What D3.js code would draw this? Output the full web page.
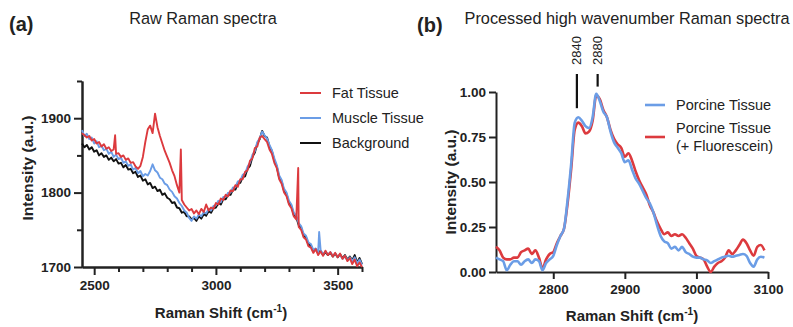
<!DOCTYPE html>
<html>
<head>
<meta charset="utf-8">
<script src="https://cdn.jsdelivr.net/npm/d3@7"></script>
<style>
  body { margin: 0; background: #fff; }
  svg text { font-family: "Liberation Sans", Arial, Helvetica, sans-serif; fill: #222; }
</style>
</head>
<body>
<div id="chart"></div>
<script>
// ---- panel (a): raw spectra, one value every 10 cm-1 from 2450 to 3600
const rawShift = d3.range(2450, 3601, 10);

const fatTissue = [
  1880,1877,1874,1876,1870,1872,1866,1868,1862,1865,
  1859,1861,1856,1858,1852,1853,1848,1850,1844,1846,
  1840,1841,1835,1832,1836,1848,1868,1885,1890,1880,
  1906,1888,1876,1866,1856,1848,1840,1830,1822,1810,
  1800,1790,1784,1780,1776,1778,1772,1776,1771,1778,
  1774,1784,1776,1780,1778,1786,1784,1792,1790,1797,
  1795,1803,1802,1810,1808,1818,1818,1828,1830,1843,
  1846,1860,1862,1874,1876,1872,1868,1858,1852,1840,
  1833,1818,1812,1800,1795,1784,1779,1768,1764,1754,
  1750,1740,1737,1728,1726,1719,1724,1716,1721,1715,
  1722,1716,1720,1714,1719,1713,1718,1711,1715,1708,
  1712,1704,1710,1701,1706,1700
];
const muscleTissue = [
  1884,1876,1879,1872,1874,1866,1869,1861,1863,1857,
  1859,1852,1855,1848,1851,1845,1847,1840,1842,1836,
  1838,1831,1833,1826,1829,1822,1825,1823,1829,1838,
  1830,1827,1820,1818,1812,1810,1804,1801,1795,1792,
  1786,1782,1776,1773,1766,1762,1768,1765,1771,1768,
  1774,1772,1778,1776,1782,1783,1789,1787,1794,1794,
  1800,1800,1807,1807,1815,1816,1824,1826,1835,1840,
  1851,1856,1868,1873,1882,1877,1873,1864,1857,1846,
  1837,1823,1817,1805,1800,1789,1784,1773,1769,1759,
  1755,1745,1742,1733,1731,1723,1725,1720,1723,1717,
  1721,1717,1720,1715,1718,1714,1716,1711,1715,1709,
  1713,1708,1713,1705,1710,1703
];
const background = [
  1866,1861,1864,1858,1861,1855,1857,1850,1853,1848,
  1850,1844,1847,1842,1845,1839,1840,1834,1837,1831,
  1832,1826,1828,1821,1823,1816,1818,1811,1813,1806,
  1808,1802,1804,1797,1799,1793,1791,1786,1787,1780,
  1779,1773,1774,1768,1768,1764,1766,1762,1768,1765,
  1771,1769,1775,1773,1779,1780,1786,1784,1791,1791,
  1797,1797,1804,1804,1812,1813,1821,1822,1832,1836,
  1848,1854,1866,1872,1883,1876,1874,1862,1856,1843,
  1835,1820,1815,1802,1798,1786,1782,1770,1767,1756,
  1753,1742,1740,1730,1729,1721,1724,1718,1722,1716,
  1720,1716,1719,1714,1718,1713,1717,1712,1716,1710,
  1714,1709,1716,1706,1712,1704
];
// narrow cosmic-ray spikes [shift, intensity]
const fatSpikes = [[2586, 1877], [2856, 1858], [3338, 1833]];
const muscleSpikes = [[3424, 1747]];

// ---- panel (b): processed spectra, one value every 5 cm-1 from 2720 to 3095
const procShift = d3.range(2720, 3096, 5);
const porcine = [
  0.08,0.07,0.06,0.01,0.04,0.06,0.06,0.04,0.06,0.07,
  0.05,0.07,0.06,0.01,0.05,0.07,0.09,0.15,0.20,0.24,
  0.40,0.60,0.83,0.86,0.84,0.81,0.80,0.86,0.99,0.95,
  0.89,0.86,0.78,0.72,0.69,0.66,0.61,0.62,0.57,0.52,
  0.49,0.45,0.41,0.38,0.33,0.26,0.20,0.17,0.16,0.13,
  0.14,0.12,0.14,0.11,0.10,0.085,0.08,0.08,0.07,0.065,
  0.05,0.06,0.07,0.08,0.085,0.09,0.085,0.09,0.095,0.10,
  0.09,0.05,0.03,0.07,0.085,0.08
];
const porcineFluo = [
  0.14,0.12,0.08,0.07,0.07,0.08,0.08,0.11,0.12,0.13,
  0.10,0.12,0.08,0.02,0.07,0.10,0.11,0.16,0.20,0.24,
  0.38,0.57,0.79,0.83,0.81,0.77,0.78,0.84,0.98,0.96,
  0.90,0.86,0.79,0.74,0.71,0.69,0.64,0.66,0.62,0.56,
  0.51,0.47,0.43,0.37,0.33,0.28,0.24,0.21,0.22,0.20,
  0.21,0.20,0.21,0.19,0.16,0.13,0.09,0.08,0.07,0.03,
  0.00,0.03,0.05,0.06,0.08,0.12,0.10,0.12,0.15,0.18,
  0.16,0.12,0.09,0.14,0.15,0.12
];
const peakLabels = ["2840", "2880"];
const peakShift = [2833, 2862];
const peakLineBottom = [0.91, 1.03];
const peakLineTop = 1.10;

const red = "#dc3a3e", blue = "#6b9de6", black = "#111";

const svg = d3.select("#chart").append("svg")
  .attr("width", 793).attr("height", 327);

function joinSeries(xs, ys, extra) {
  return xs.map((x, i) => [x, ys[i]]).concat(extra || []).sort((a, b) => a[0] - b[0]);
}

function styleAxis(g) {
  g.selectAll("path.domain").attr("stroke", "#222").attr("stroke-width", 2);
  g.selectAll(".tick line").attr("stroke", "#222").attr("stroke-width", 2);
  g.selectAll(".tick text").attr("font-size", 13.5).attr("font-weight", "bold")
    .attr("font-family", null).attr("fill", "#222");
}

// ================= panel (a)
const xA = d3.scaleLinear().domain([2450, 3600]).range([82, 362]);
const yA = d3.scaleLinear().domain([1700, 1950]).range([267, 81]);

svg.append("g").attr("transform", "translate(0,267)")
  .call(d3.axisBottom(xA).tickValues(d3.range(2600, 3601, 100).filter(d => d % 500)).tickSize(5).tickSizeOuter(0).tickFormat(""))
  .call(styleAxis);
svg.append("g").attr("transform", "translate(0,267)")
  .call(d3.axisBottom(xA).tickValues([2500, 3000, 3500]).tickSize(8).tickSizeOuter(0).tickPadding(5).tickFormat(d3.format("d")))
  .call(styleAxis);
svg.append("g").attr("transform", "translate(82,0)")
  .call(d3.axisLeft(yA).tickValues([1750, 1850, 1950]).tickSize(5).tickSizeOuter(0).tickFormat(""))
  .call(styleAxis);
svg.append("g").attr("transform", "translate(82,0)")
  .call(d3.axisLeft(yA).tickValues([1700, 1800, 1900]).tickSize(8).tickSizeOuter(0).tickPadding(3).tickFormat(d3.format("d")))
  .call(styleAxis);

const lineA = d3.line().x(d => xA(d[0])).y(d => yA(d[1]));
const rawSeries = [
  { name: "Fat Tissue", color: red, data: joinSeries(rawShift, fatTissue, fatSpikes) },
  { name: "Muscle Tissue", color: blue, data: joinSeries(rawShift, muscleTissue, muscleSpikes) },
  { name: "Background", color: black, data: joinSeries(rawShift, background) }
];
svg.append("g").selectAll("path")
  .data(rawSeries.slice().reverse()).join("path")
  .attr("d", d => lineA(d.data))
  .attr("fill", "none").attr("stroke", d => d.color).attr("stroke-width", 1.9)
  .attr("stroke-linejoin", "round");

const legA = svg.append("g").attr("transform", "translate(300,93)");
rawSeries.forEach((s, i) => {
  const it = legA.append("g").attr("transform", `translate(0,${i * 25})`);
  it.append("line").attr("x1", 0).attr("x2", 21).attr("stroke", s.color).attr("stroke-width", 2);
  it.append("text").attr("x", 32).attr("dy", "0.35em").attr("font-size", 14.5).attr("fill", "#333").text(s.name);
});

svg.append("text").attr("x", 9).attr("y", 31).attr("font-size", 20).attr("font-weight", "bold").text("(a)");
svg.append("text").attr("x", 203).attr("y", 24).attr("text-anchor", "middle").attr("font-size", 16.3).text("Raw Raman spectra");

function xTitle(x, y) {
  const t = svg.append("text").attr("x", x).attr("y", y).attr("text-anchor", "middle")
    .attr("font-size", 15).attr("font-weight", "bold");
  t.append("tspan").text("Raman Shift (cm");
  t.append("tspan").attr("dy", -6).attr("font-size", 10).text("-1");
  t.append("tspan").attr("dy", 6).text(")");
}
function yTitle(x, y) {
  svg.append("text").attr("transform", `translate(${x},${y}) rotate(-90)`).attr("text-anchor", "middle")
    .attr("font-size", 15.5).attr("font-weight", "bold").text("Intensity (a.u.)");
}
xTitle(221, 318);
yTitle(33, 168);

// ================= panel (b)
const xB = d3.scaleLinear().domain([2720, 3100]).range([496, 768]);
const yB = d3.scaleLinear().domain([0, 1]).range([272, 92]);

svg.append("g").attr("transform", "translate(0,272)")
  .call(d3.axisBottom(xB).tickValues([2800, 2900, 3000, 3100]).tickSize(7).tickSizeOuter(0).tickPadding(5).tickFormat(d3.format("d")))
  .call(styleAxis);
svg.append("g").attr("transform", "translate(496,0)")
  .call(d3.axisLeft(yB).tickValues([0, 0.25, 0.5, 0.75, 1]).tickSize(7).tickSizeOuter(0).tickPadding(3).tickFormat(d3.format(".2f")))
  .call(styleAxis);

const lineB = d3.line().x(d => xB(d[0])).y(d => yB(d[1])).curve(d3.curveMonotoneX);
const procSeries = [
  { name: ["Porcine Tissue"], color: blue, data: joinSeries(procShift, porcine) },
  { name: ["Porcine Tissue", "(+ Fluorescein)"], color: red, data: joinSeries(procShift, porcineFluo) }
];
svg.append("g").selectAll("path")
  .data(procSeries.slice().reverse()).join("path")
  .attr("d", d => lineB(d.data))
  .attr("fill", "none").attr("stroke", d => d.color).attr("stroke-width", 2.6)
  .attr("stroke-linejoin", "round");

// peak markers
peakShift.forEach((p, i) => {
  svg.append("line")
    .attr("x1", xB(p)).attr("x2", xB(p))
    .attr("y1", yB(peakLineTop)).attr("y2", yB(peakLineBottom[i]))
    .attr("stroke", "#111").attr("stroke-width", 2.2);
  svg.append("text").attr("transform", `translate(${xB(p) + 4.5},${yB(peakLineTop) - 9}) rotate(-90)`)
    .attr("font-size", 13).attr("fill", "#222").text(peakLabels[i]);
});

const legB = svg.append("g").attr("transform", "translate(645,105)");
[0, 32].forEach((off, i) => {
  const s = procSeries[i];
  const it = legB.append("g").attr("transform", `translate(0,${off})`);
  it.append("line").attr("x1", 0).attr("x2", 20).attr("stroke", s.color).attr("stroke-width", 2.6);
  s.name.forEach((ln, j) => {
    it.append("text").attr("x", 31).attr("y", (j - (s.name.length - 1) / 2) * 18)
      .attr("dy", "0.35em").attr("font-size", 14.5).attr("fill", "#333").text(ln);
  });
});

svg.append("text").attr("x", 417).attr("y", 32).attr("font-size", 20).attr("font-weight", "bold").text("(b)");
svg.append("text").attr("x", 627).attr("y", 24).attr("text-anchor", "middle").attr("font-size", 16.3).text("Processed high wavenumber Raman spectra");

xTitle(632, 321);
yTitle(456, 182);
</script>
</body>
</html>
